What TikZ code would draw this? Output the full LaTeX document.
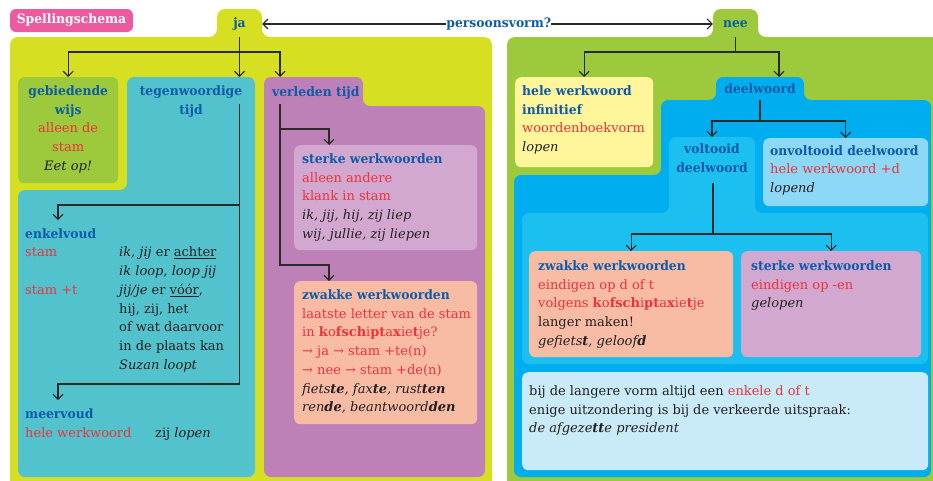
\documentclass[tikz,border=0pt]{standalone}
\usepackage{fontspec}
\setmainfont{DejaVu Serif}
\newfontfamily\kopfont{DejaVu Serif}[FakeStretch=0.95]
\usetikzlibrary{arrows.meta, positioning}

\definecolor{limeback}{HTML}{D7DF23}
\definecolor{grassback}{HTML}{9CCA3C}
\definecolor{tealback}{HTML}{52C3CD}
\definecolor{plumback}{HTML}{BD81B8}
\definecolor{lilacbox}{HTML}{D3A8D0}
\definecolor{salmonbox}{HTML}{F8BCA5}
\definecolor{paleyellow}{HTML}{FFF59B}
\definecolor{skyback}{HTML}{00AEEF}
\definecolor{skymid}{HTML}{1BC0F0}
\definecolor{skylight}{HTML}{8DD7F7}
\definecolor{skypale}{HTML}{C8EAF9}
\definecolor{pinklabel}{HTML}{EC5BA0}
\definecolor{headblue}{HTML}{0D5BA8}
\definecolor{rulered}{HTML}{EE3239}
\definecolor{inkblack}{HTML}{231F20}
\definecolor{inkline}{HTML}{2A2A2A}

\newcommand\kop[1]{{\kopfont\bfseries\color{headblue}#1}}
\newcommand\rood[1]{{\color{rulered}#1}}

\begin{document}
\begin{tikzpicture}[
  x=1pt, y=-1pt,
  font=\fontsize{13}{18.7}\selectfont,
  every node/.append style={text=inkblack},
  panel/.style = {anchor=north west, inner sep=0pt, rounded corners=6pt},
  txt/.style = {inner sep=0pt, align=left},
  tabkop/.style = {font=\fontsize{13}{18.7}\selectfont\kopfont\bfseries, text=headblue, inner sep=0pt},
  link/.style = {line width=1.1pt, draw=inkline},
  arrow/.style = {link, -{Straight Barb[length=5pt,width=10pt]}}
]
\useasboundingbox (0,0) rectangle (933,480);
\fill[white] (0,0) rectangle (933,480);

  % title
  \node[fill=pinklabel, rounded corners=6pt, minimum width=123pt, minimum height=23pt,
        inner sep=0pt, font=\fontsize{13}{18.7}\selectfont\kopfont\bfseries, text=white] (titel) at (71.5,20.5) {Spellingschema};

  % big areas
  \fill[limeback, rounded corners=8pt] (10,490) -- (10,37) -- (217,37) -- (217,9) -- (262,9) -- (262,37) -- (492,37) -- (492,490) -- cycle;
  \fill[grassback, rounded corners=8pt] (507,490) -- (507,37) -- (713,37) -- (713,9) -- (758,9) -- (758,37) -- (945,37) -- (945,490) -- cycle;
  \fill[tealback, rounded corners=7pt] (127,77) -- (255,77) -- (255,477) -- (18,477) -- (18,190) -- (127,190) -- cycle;
  \fill[plumback, rounded corners=7pt] (264,77) -- (363,77) -- (363,106) -- (485,106) -- (485,477) -- (264,477) -- cycle;
  \fill[skyback, rounded corners=7pt] (716,77) -- (804,77) -- (804,100) -- (931,100) -- (931,477) -- (514,477) -- (514,175) -- (661,175) -- (661,100) -- (716,100) -- cycle;
  \fill[skymid, rounded corners=7pt] (669,137) -- (755,137) -- (755,213) -- (928,213) -- (928,364) -- (522,364) -- (522,213) -- (669,213) -- cycle;

  % boxes
  \node[panel, fill=grassback, minimum width=100pt, minimum height=106pt] (gbw) at (18,77) {};
  \node[panel, fill=lilacbox, minimum width=183pt, minimum height=105pt] (sw) at (294,145) {};
  \node[panel, fill=salmonbox, minimum width=183pt, minimum height=143pt] (zw) at (294,281) {};
  \node[panel, fill=paleyellow, minimum width=138pt, minimum height=90pt] (hw) at (515,77) {};
  \node[panel, fill=skylight, minimum width=165pt, minimum height=68pt] (ovd) at (763,138) {};
  \node[panel, fill=salmonbox, minimum width=204pt, minimum height=106pt] (rzw) at (529,251) {};
  \node[panel, fill=lilacbox, minimum width=180pt, minimum height=106pt] (rsw) at (741,251) {};
  \node[panel, fill=skypale, minimum width=406pt, minimum height=98pt] (nt) at (522,372) {};

  % tabs
  \node[tabkop, minimum width=45pt, minimum height=26pt] (ja) at (239.5,24) {ja};
  \node[tabkop, minimum width=45pt, minimum height=26pt] (nee) at (735.5,24) {nee};
  \draw[link, {Straight Barb[length=5pt,width=10pt]}-{Straight Barb[length=5pt,width=10pt]}]
    (ja.east) -- node[pos=0.525, fill=white, inner sep=3pt, tabkop] (pv) {persoonsvorm?} (nee.west);

  % ja side
  \node[txt, align=center, below=8.5pt of gbw.north] (gbwtxt)
    {\kop{gebiedende}\\\kop{wijs}\\\rood{alleen de}\\\rood{stam}\\\textit{Eet op!}};
  \node[tabkop, align=center, anchor=north] (tg) at (191,85.5) {tegenwoordige\\tijd};
  \node[tabkop, anchor=north west] (vt) at (272,86.5) {verleden tijd};

  \node[inner sep=0pt, anchor=north west] (ev) at (25,225) {%
    \begin{tabular}{@{}l@{}l@{}}
      \multicolumn{2}{@{}l@{}}{\kop{enkelvoud}}\\
      \makebox[94pt][l]{\rood{stam}} & \textit{ik, jij} er \underline{achter}\\
                  & \textit{ik loop, loop jij}\\
      \rood{stam +t} & \textit{jij/je} er \underline{vóór},\\
                  & hij, zij, het\\
                  & of wat daarvoor\\
                  & in de plaats kan\\
                  & \textit{Suzan loopt}
    \end{tabular}};
  \node[inner sep=0pt, anchor=north west] (mv) at (25,405.5) {%
    \begin{tabular}{@{}l@{}l@{}}
      \multicolumn{2}{@{}l@{}}{\kop{meervoud}}\\
      \makebox[130pt][l]{\rood{hele werkwoord}} & zij \textit{lopen}
    \end{tabular}};

  \node[txt, below right=8.5pt and 8pt of sw.north west] (swtxt)
    {\kop{sterke werkwoorden}\\\rood{alleen andere}\\\rood{klank in stam}\\
     \textit{ik, jij, hij, zij liep}\\\textit{wij, jullie, zij liepen}};
  \node[txt, below right=8.5pt and 8pt of zw.north west] (zwtxt)
    {\kop{zwakke werkwoorden}\\\rood{laatste letter van de stam}\\
     \rood{in \textbf{k}o\textbf{fsch}i\textbf{pt}a\textbf{x}ie\textbf{t}je?}\\
     \rood{→ ja → stam +te(n)}\\\rood{→ nee → stam +de(n)}\\
     \textit{fiets\textbf{te}, fax\textbf{te}, rust\textbf{ten}}\\
     \textit{ren\textbf{de}, beantwoord\textbf{den}}};

  % nee side
  \node[txt, below right=8.5pt and 7pt of hw.north west] (hwtxt)
    {\kop{hele werkwoord}\\\kop{infinitief}\\\rood{woordenboekvorm}\\\textit{lopen}};
  \node[tabkop] (dw) at (760,89) {deelwoord};
  \node[tabkop, align=center, anchor=north] (vd) at (712,143.5) {voltooid\\deelwoord};
  \node[txt, below right=7pt and 7pt of ovd.north west] (ovdtxt)
    {\kop{onvoltooid deelwoord}\\\rood{hele werkwoord +d}\\\textit{lopend}};
  \node[txt, below right=9.5pt and 9pt of rzw.north west] (rzwtxt)
    {\kop{zwakke werkwoorden}\\\rood{eindigen op d of t}\\
     \rood{volgens \textbf{k}o\textbf{fsch}i\textbf{pt}a\textbf{x}ie\textbf{t}je}\\
     langer maken!\\\textit{gefiets\textbf{t}, geloof\textbf{d}}};
  \node[txt, below right=9.5pt and 10pt of rsw.north west] (rswtxt)
    {\kop{sterke werkwoorden}\\\rood{eindigen op -en}\\\textit{gelopen}};
  \node[txt, below right=13.5pt and 7pt of nt.north west] (nttxt)
    {bij de langere vorm altijd een \rood{enkele d of t}\\
     enige uitzondering is bij de verkeerde uitspraak:\\
     \textit{de afgeze\textbf{tt}e president}};

  % connectors ja
  \coordinate (jafork) at (239.5,52);
  \coordinate (vtdrop) at (280,77);
  \draw[arrow] (ja.south) -- (ja.south |- gbw.north);
  \draw[arrow] (jafork) -| (gbw.north);
  \draw[arrow] (jafork) -| (vtdrop);

  \coordinate (tgtop) at (239.5,104);
  \coordinate (evfork) at (239.5,205);
  \coordinate (mvfork) at (239.5,384);
  \coordinate (evdrop) at (58,220);
  \coordinate (mvdrop) at (58,400);
  \draw[arrow] (tgtop) -- (mvfork) -| (mvdrop);
  \draw[arrow] (evfork) -| (evdrop);

  \coordinate (vttop) at (280,104);
  \coordinate (swfork) at (280,129);
  \coordinate (zwfork) at (280,265);
  \draw[arrow] (vttop) -- (zwfork) -| ([xshift=35pt]zw.north west);
  \draw[arrow] (swfork) -| ([xshift=35pt]sw.north west);

  % connectors nee
  \coordinate (neefork) at (735.5,52);
  \coordinate (dwdrop) at (779,77);
  \draw[link] (nee.south) -- (neefork);
  \draw[arrow] (neefork) -| (hw.north);
  \draw[arrow] (neefork) -| (dwdrop);

  \coordinate (dwtop) at (760,100);
  \coordinate (dwfork) at (760,121);
  \coordinate (vdtop) at (712,137);
  \draw[link] (dwtop) -- (dwfork);
  \draw[arrow] (dwfork) -| (vdtop);
  \draw[arrow] (dwfork) -| (ovd.north);

  \coordinate (vdbot) at (713,183);
  \coordinate (vdfork) at (713,234);
  \draw[link] (vdbot) -- (vdfork);
  \draw[arrow] (vdfork) -| (rzw.north);
  \draw[arrow] (vdfork) -| (rsw.north);

\end{tikzpicture}
\end{document}
